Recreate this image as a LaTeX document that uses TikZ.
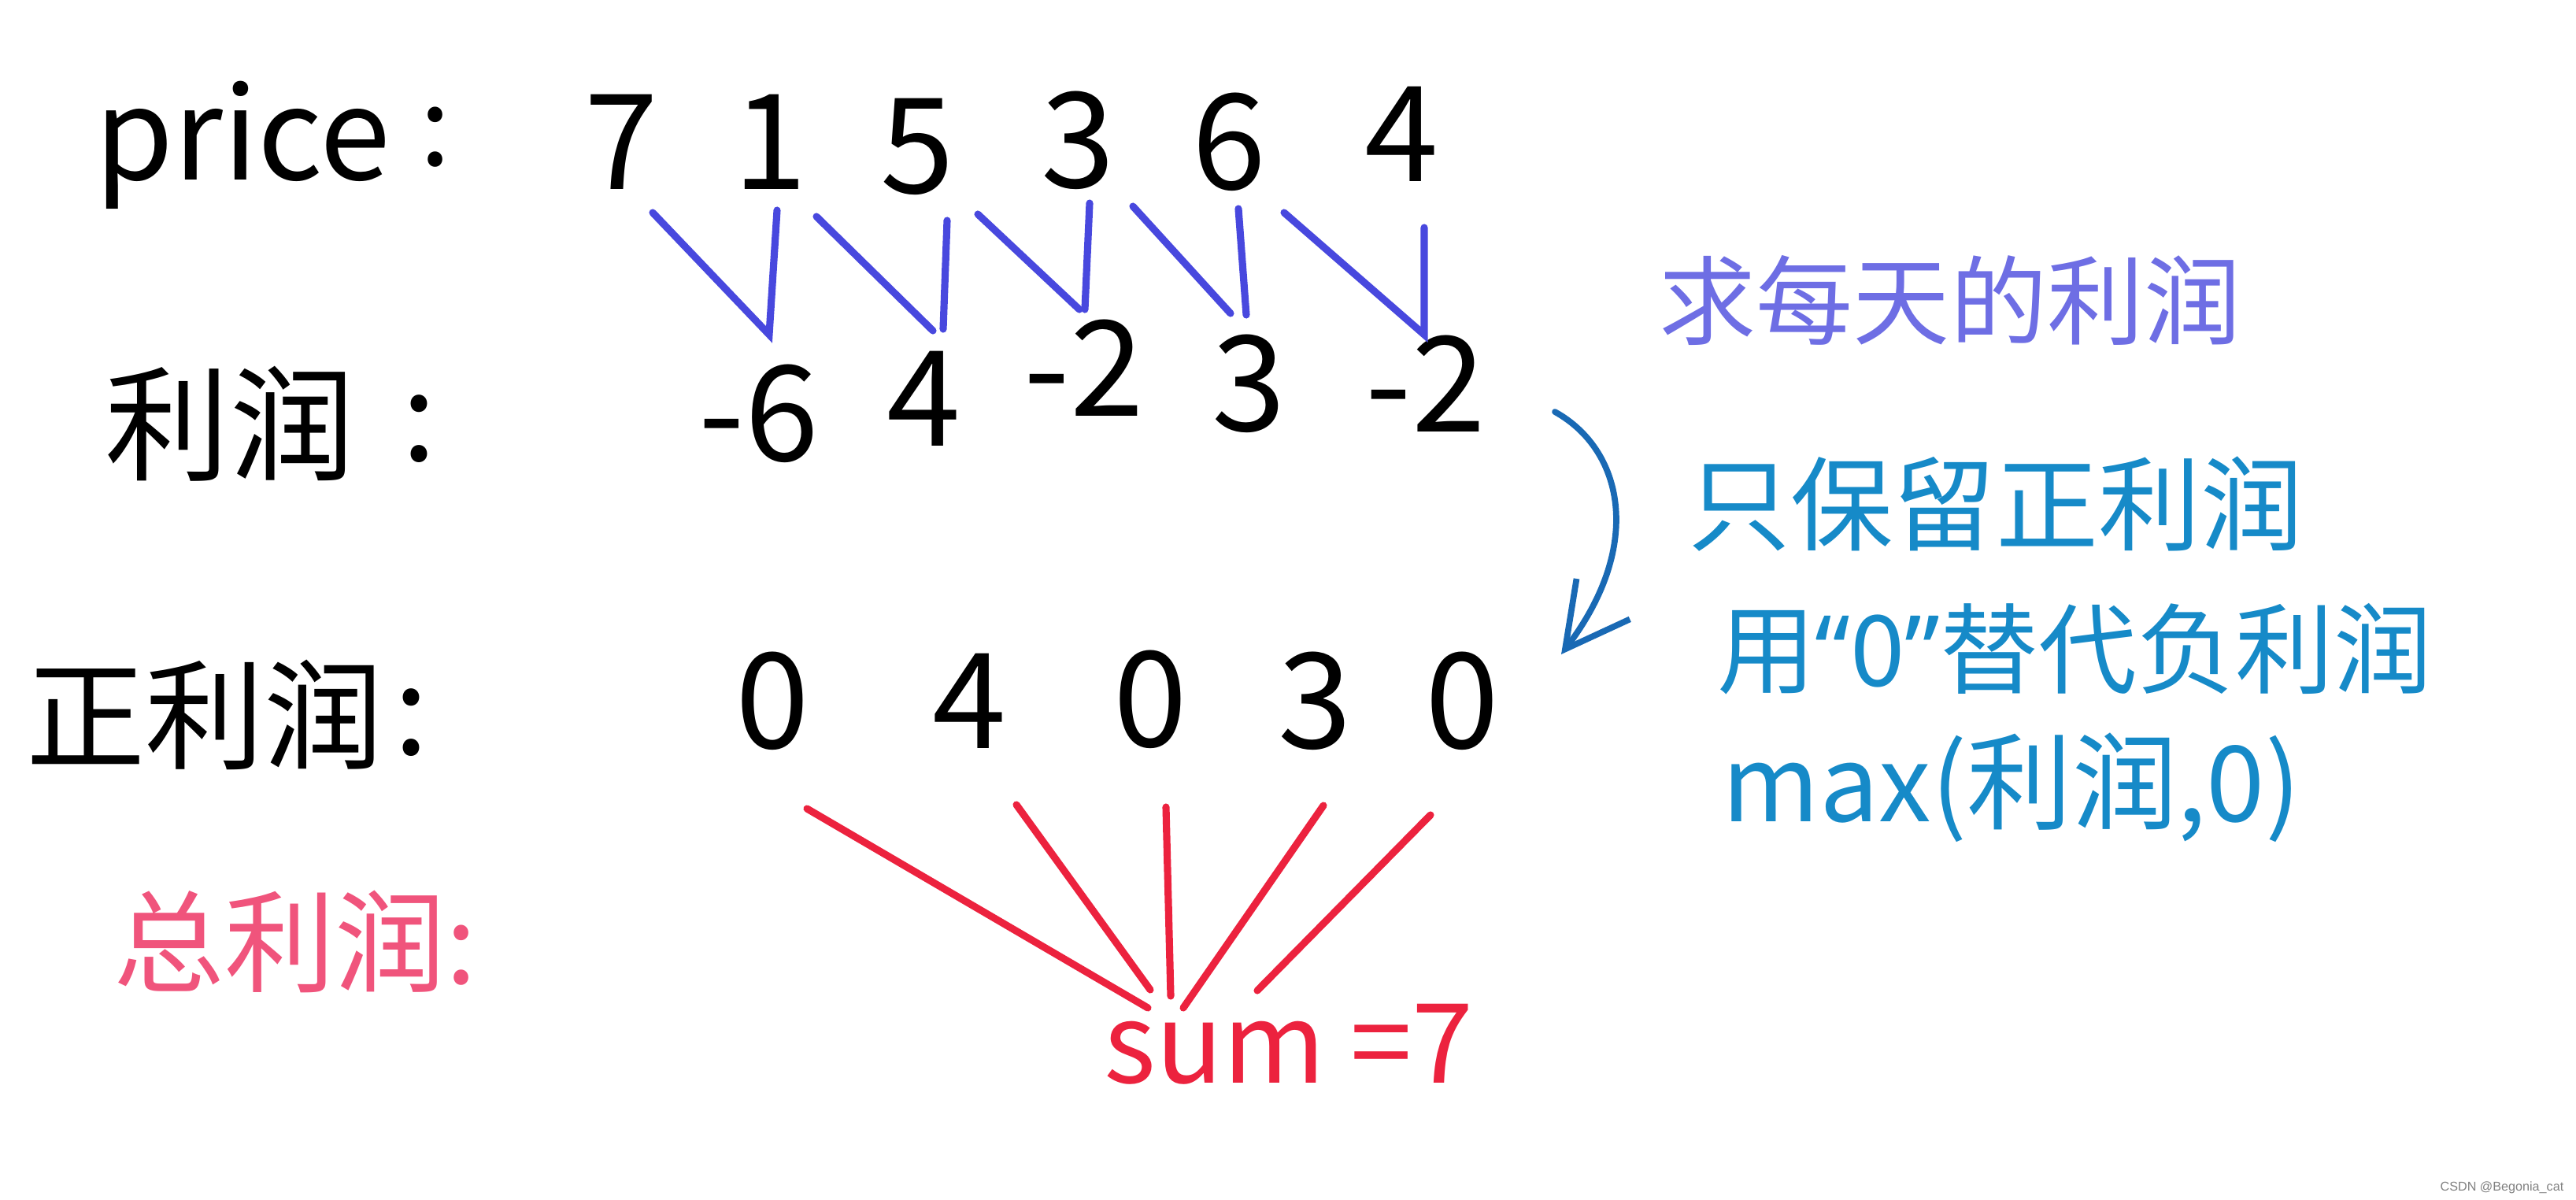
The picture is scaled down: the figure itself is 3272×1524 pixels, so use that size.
\documentclass[tikz,border=0pt]{standalone}
\usepackage{fontspec}
\setmainfont{Noto Sans CJK SC}
\newfontfamily\latinf{Noto Sans}
\newfontfamily\wmfont{Liberation Sans}
\usetikzlibrary{arrows.meta}
\definecolor{inkblue}{RGB}{72,72,222}
\definecolor{lavink}{RGB}{110,110,228}
\definecolor{tealink}{RGB}{22,138,200}
\definecolor{arrowink}{RGB}{25,105,180}
\definecolor{redink}{RGB}{236,34,62}
\definecolor{pinkink}{RGB}{240,84,124}
\tikzset{
  num/.style={anchor=base, inner sep=0pt, font=\fontsize{48}{50}\selectfont},
  rowlbl/.style={inner sep=0pt, font=\fontsize{45}{47}\selectfont},
  note/.style={inner sep=0pt, text=tealink},
  blueline/.style={draw=inkblue, line width=2.6pt, line cap=round},
  redline/.style={draw=redink, line width=2.6pt, line cap=round},
}
\begin{document}
\begin{tikzpicture}[x=0.01cm, y=-0.01cm]
\useasboundingbox (0,0) rectangle (3272,1524);

% row labels
\node[anchor=base, inner sep=0pt, font=\fontsize{46}{48}\selectfont] (price) at (308,228) {price};
\node[anchor=base, inner sep=0pt, font=\fontsize{40}{42}\selectfont] (pcol) at (553,210) {:};
\node[rowlbl] (lr) at (292,538) {利润};
\node[rowlbl] (lrcol) at (532,545) {:};
\node[rowlbl, font=\fontsize{43}{45}\selectfont] (zlr) at (260,908) {正利润};
\node[rowlbl] (zlrcol) at (522,918) {:};
\node[inner sep=0pt, text=pinkink, font=\fontsize{40}{42}\selectfont] (tot) at (375,1196) {总利润:};

% prices
\node[num] (p1) at (789,240) {7};
\node[num] (p2) at (978,240) {1};
\node[num] (p3) at (1165,245) {5};
\node[num] (p4) at (1369,238) {3};
\node[num] (p5) at (1561,240) {6};
\node[num] (p6) at (1780,230) {4};

% daily profits
\node[num] (d1) at (964,585) {-6};
\node[num] (d2) at (1173,566) {4};
\node[num] (d3) at (1377,528) {-2};
\node[num] (d4) at (1586,547) {3};
\node[num] (d5) at (1811,548) {-2};

% positive profits
\node[num] (z1) at (981,950) {0};
\node[num] (z2) at (1231,950) {4};
\node[num] (z3) at (1461,948) {0};
\node[num] (z4) at (1670,950) {3};
\node[num] (z5) at (1857,950) {0};

% blue connector end points
\coordinate (a1) at (829,270);  \coordinate (b1) at (987,267);  \coordinate (c1) at (977,425);
\coordinate (a2) at (1037,275); \coordinate (b2) at (1203,280); \coordinate (c2) at (1185,420);
\coordinate (a3) at (1242,272); \coordinate (b3) at (1384,258); \coordinate (c3) at (1378,393);
\coordinate (a4) at (1439,262); \coordinate (b4) at (1573,265); \coordinate (c4) at (1573,400);
\coordinate (a5) at (1631,270); \coordinate (b5) at (1809,289); \coordinate (c5) at (1809,425);

\draw[blueline] (a1) -- (c1) -- (b1);
\draw[blueline] (a2) -- (c2);
\draw[blueline] (b2) -- (1198,418);
\draw[blueline] (a3) -- (1371,393);
\draw[blueline] (b3) -- (c3);
\draw[blueline] (a4) -- (1563,398);
\draw[blueline] (b4) -- (1583,400);
\draw[blueline] (a5) -- (c5) -- (b5);

% notes
\node[inner sep=0pt, text=lavink, font=\fontsize{35}{37}\selectfont] (n1) at (2477,381) {求每天的利润};
\node[note, font=\fontsize{37}{39}\selectfont] (n2) at (2535,640) {只保留正利润};
\node[note, font=\fontsize{35.5}{37}\selectfont] (n3) at (2635,824) {用{\latinf “}0{\latinf ”}替代负利润};
\node[note, font=\fontsize{38}{40}\selectfont] (n4) at (2555,1000) {max(利润,0)};

% curved arrow
\coordinate (arS) at (1975,523);
\coordinate (arE) at (1983,831);
\draw[draw=arrowink, line width=2.2pt, line cap=round, -{Straight Barb[length=0.8cm, width=0.85cm, line width=2.2pt]}]
  (arS) .. controls (2060,570) and (2090,690) .. (arE);

% sum
\node[anchor=base, inner sep=0pt, text=redink, font=\fontsize{40}{42}\selectfont] (sum) at (1637,1375) {sum =7};
\coordinate (s1) at (1025,1027); \coordinate (e1) at (1458,1280);
\coordinate (s2) at (1291,1022); \coordinate (e2) at (1461,1257);
\coordinate (s3) at (1481,1025); \coordinate (e3) at (1487,1265);
\coordinate (s4) at (1681,1023); \coordinate (e4) at (1503,1280);
\coordinate (s5) at (1817,1035); \coordinate (e5) at (1597,1258);
\draw[redline] (s1) -- (e1);
\draw[redline] (s2) -- (e2);
\draw[redline] (s3) -- (e3);
\draw[redline] (s4) -- (e4);
\draw[redline] (s5) -- (e5);

% watermark
\node[anchor=base east, inner sep=0pt, text=gray, font=\wmfont\fontsize{4.6}{5}\selectfont] (wm) at (3257,1512) {CSDN @Begonia\_cat};
\end{tikzpicture}
\end{document}
